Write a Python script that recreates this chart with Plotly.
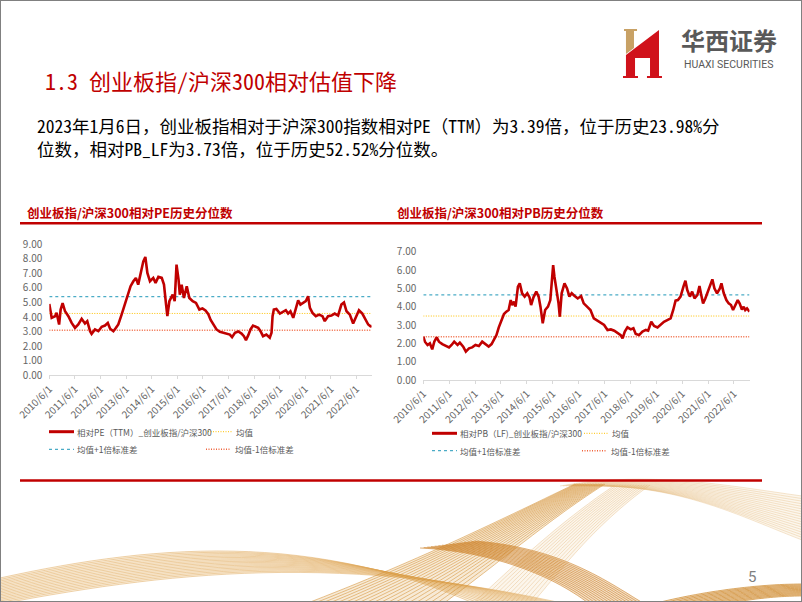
import plotly.graph_objects as go

W, H = 802, 602

# ---------------- data ----------------
pe_dates = ["2010-06-01", "2010-07-05", "2010-08-22", "2010-09-13", "2010-10-19", "2010-11-10", "2010-12-08",
            "2011-01-12", "2011-02-28", "2011-04-16", "2011-06-03", "2011-07-20", "2011-09-06", "2011-10-23",
            "2011-11-25", "2012-01-04", "2012-01-26", "2012-03-14", "2012-05-01", "2012-06-18", "2012-08-04",
            "2012-09-13", "2012-10-16", "2012-12-02", "2013-01-08", "2013-02-10", "2013-03-29", "2013-05-16",
            "2013-07-02", "2013-08-04", "2013-09-13", "2013-10-19", "2013-11-21", "2013-12-24", "2014-02-02",
            "2014-03-03", "2014-04-01", "2014-05-08", "2014-06-24", "2014-07-27", "2014-09-05", "2014-10-23",
            "2014-11-24", "2014-12-24", "2015-01-11", "2015-02-09", "2015-03-28", "2015-04-26", "2015-05-22",
            "2015-06-20", "2015-07-08", "2015-08-03", "2015-09-05", "2015-10-15", "2015-11-21", "2016-01-08",
            "2016-02-24", "2016-04-12", "2016-05-26", "2016-07-08", "2016-08-18", "2016-09-20", "2016-10-27",
            "2016-12-13", "2017-01-30", "2017-03-18", "2017-05-04", "2017-06-21", "2017-07-23", "2017-09-02",
            "2017-10-19", "2017-12-05", "2018-01-08", "2018-02-06", "2018-03-10", "2018-04-12", "2018-05-18",
            "2018-06-28", "2018-07-31", "2018-09-02", "2018-10-08", "2018-11-24", "2019-01-12", "2019-02-06",
            "2019-02-21", "2019-03-11", "2019-04-16", "2019-06-06", "2019-07-24", "2019-08-29", "2019-10-01",
            "2019-11-03", "2019-12-13", "2020-01-19", "2020-02-21", "2020-03-25", "2020-05-04", "2020-06-09",
            "2020-07-12", "2020-08-07", "2020-09-13", "2020-10-30", "2020-12-16", "2021-02-02", "2021-03-07",
            "2021-04-23", "2021-06-10", "2021-07-27", "2021-09-13", "2021-10-30", "2021-12-06", "2022-01-12",
            "2022-02-28", "2022-04-16", "2022-05-22", "2022-07-08", "2022-08-25", "2022-10-12", "2022-11-17",
            "2022-12-20", "2023-01-06"]
pe_values = [4.90, 3.95, 4.06, 4.30, 3.49, 4.52, 4.95,
             4.40, 4.06, 3.60, 3.26, 3.49, 3.88, 3.56,
             3.72, 3.03, 2.85, 3.15, 3.03, 3.33, 3.42,
             3.60, 3.20, 3.03, 3.26, 3.49, 4.17, 4.86,
             5.66, 6.12, 6.46, 6.69, 6.23, 7.03, 7.83,
             8.13, 7.03, 6.46, 6.69, 6.35, 6.76, 6.69,
             6.23, 4.86, 4.06, 5.09, 5.54, 5.09, 7.60,
             6.58, 5.54, 6.23, 5.31, 6.12, 5.31, 5.09,
             4.97, 4.52, 4.60, 4.45, 4.20, 3.80, 3.49,
             3.15, 2.99, 2.92, 2.87, 2.80, 2.62, 2.92,
             3.01, 2.87, 2.69, 2.42, 2.74, 3.15, 3.42,
             3.33, 3.26, 3.03, 2.69, 2.80, 2.58, 2.92,
             4.06, 4.52, 4.56, 4.24, 4.40, 4.47, 4.24,
             4.40, 3.95, 4.63, 5.15, 4.86, 4.97, 5.09,
             5.43, 4.63, 4.29, 4.06, 4.17, 4.06, 3.72,
             4.06, 4.10, 4.24, 4.10, 4.86, 5.00, 4.40,
             4.17, 3.56, 3.95, 4.47, 4.24, 3.83, 3.49,
             3.37, 3.39]

pb_dates = ["2010-06-01", "2010-06-24", "2010-07-31", "2010-09-02", "2010-10-05", "2010-11-03", "2010-12-06",
            "2011-01-08", "2011-02-24", "2011-04-12", "2011-05-30", "2011-07-05", "2011-08-11", "2011-09-27",
            "2011-10-30", "2011-12-16", "2012-01-22", "2012-03-07", "2012-04-20", "2012-06-06", "2012-07-24",
            "2012-09-09", "2012-10-27", "2012-12-09", "2013-01-19", "2013-02-24", "2013-03-29", "2013-05-01",
            "2013-06-07", "2013-07-13", "2013-08-15", "2013-09-17", "2013-10-16", "2013-11-07", "2013-12-03",
            "2013-12-24", "2014-01-26", "2014-02-21", "2014-03-26", "2014-05-01", "2014-06-07", "2014-07-09",
            "2014-07-31", "2014-09-02", "2014-10-12", "2014-11-14", "2014-12-10", "2015-01-11", "2015-02-14",
            "2015-03-26", "2015-04-28", "2015-05-20", "2015-06-07", "2015-06-25", "2015-07-24", "2015-08-22",
            "2015-09-09", "2015-10-05", "2015-11-14", "2015-12-20", "2016-01-22", "2016-02-24", "2016-04-01",
            "2016-05-19", "2016-07-05", "2016-08-11", "2016-09-27", "2016-11-14", "2017-01-01", "2017-02-14",
            "2017-04-01", "2017-05-26", "2017-07-13", "2017-08-29", "2017-10-16", "2017-12-02", "2018-01-15",
            "2018-02-10", "2018-03-14", "2018-04-20", "2018-06-06", "2018-07-13", "2018-08-15", "2018-10-01",
            "2018-11-18", "2019-01-04", "2019-02-06", "2019-03-22", "2019-05-01", "2019-06-18", "2019-07-31",
            "2019-09-17", "2019-11-03", "2019-12-20", "2020-01-26", "2020-02-28", "2020-04-01", "2020-05-08",
            "2020-06-18", "2020-07-16", "2020-08-11", "2020-09-17", "2020-10-19", "2020-11-21", "2021-01-01",
            "2021-01-30", "2021-02-24", "2021-03-22", "2021-04-23", "2021-05-26", "2021-07-05", "2021-07-31",
            "2021-08-29", "2021-10-05", "2021-11-14", "2021-12-06", "2022-01-08", "2022-02-14", "2022-03-18",
            "2022-04-20", "2022-05-19", "2022-06-21", "2022-07-24", "2022-08-19", "2022-09-21", "2022-10-16",
            "2022-11-07", "2022-12-02", "2023-01-06"]
pb_values = [2.36, 2.09, 1.91, 2.00, 1.67, 2.09, 2.33,
             2.09, 1.96, 1.85, 1.78, 1.91, 2.09, 1.91,
             2.04, 1.82, 1.55, 1.73, 1.78, 1.91, 1.85,
             2.09, 1.96, 1.82, 1.96, 2.18, 2.45, 2.87,
             3.27, 3.60, 3.73, 3.82, 4.36, 4.09, 4.27,
             4.00, 5.09, 5.27, 4.73, 4.55, 4.73, 4.51,
             4.09, 4.51, 4.82, 4.55, 4.00, 3.09, 3.82,
             4.00, 4.36, 5.46, 6.27, 5.64, 4.91, 4.18,
             3.45, 4.73, 5.27, 5.00, 4.55, 4.73, 4.60,
             4.45, 4.58, 4.18, 4.00, 3.82, 3.36, 3.24,
             3.13, 3.00, 2.73, 2.76, 2.69, 2.58, 2.45,
             2.27, 2.64, 2.87, 2.76, 2.82, 2.51, 2.45,
             2.64, 2.73, 2.69, 3.18, 2.95, 2.87, 3.00,
             3.18, 3.27, 3.36, 3.82, 4.33, 4.36, 4.55,
             5.09, 5.42, 4.91, 4.55, 4.82, 4.45, 4.64,
             5.13, 4.64, 4.18, 4.45, 4.82, 5.27, 5.49,
             5.00, 4.73, 5.00, 5.27, 4.73, 4.36, 4.18,
             4.09, 3.82, 4.09, 4.36, 4.18, 3.85, 4.00,
             3.82, 3.91, 3.73]

pe_mean, pe_plus_sd, pe_minus_sd = 4.25, 5.40, 3.10
pb_mean, pb_plus_sd, pb_minus_sd = 3.49, 4.64, 2.36

date_start, date_end = "2010-06-01", "2023-01-06"
tick_dates = ["%d-06-01" % y for y in range(2010, 2023)]
tick_labels = ["%d/6/1" % y for y in range(2010, 2023)]
pe_yticks = [0, 1, 2, 3, 4, 5, 6, 7, 8, 9]
pb_yticks = [0, 1, 2, 3, 4, 5, 6, 7]

page_title = "1.3 创业板指/沪深300相对估值下降"
body_lines = ["2023年1月6日，创业板指相对于沪深300指数相对PE（TTM）为3.39倍，位于历史23.98%分",
              "位数，相对PB_LF为3.73倍，位于历史52.52%分位数。"]
pe_title = "创业板指/沪深300相对PE历史分位数"
pb_title = "创业板指/沪深300相对PB历史分位数"
pe_series_name = "相对PE（TTM）_创业板指/沪深300"
pb_series_name = "相对PB（LF)_创业板指/沪深300"
mean_name = "均值"
plus_name = "均值+1倍标准差"
minus_name = "均值-1倍标准差"

# ---------------- styles ----------------
RED = "#C00000"
CYAN = "#4BACC6"
YELLOW = "#FFC000"
ORANGE = "#F0643C"
GRAY = "#7F7F7F"
CJK = "Noto Sans CJK SC"
NARROW = "Liberation Sans Narrow, Noto Sans CJK SC"
MONO = "Noto Sans Mono CJK SC, Noto Sans CJK SC"


def X(px):
    return px / W


def Y(py):
    return 1 - py / H


fig = go.Figure()


def add_panel(dates, values, mean, up, dn, xa, ya):
    for val, color, dash, width in [(up, CYAN, "3px,3px", 1.2), (mean, YELLOW, "1px,1.5px", 1.0),
                                    (dn, ORANGE, "1px,1.5px", 1.4)]:
        fig.add_trace(go.Scatter(x=[date_start, date_end], y=[val, val], mode="lines",
                                 line=dict(color=color, width=width, dash=dash),
                                 xaxis=xa, yaxis=ya, showlegend=False, hoverinfo="skip"))
    fig.add_trace(go.Scatter(x=dates, y=values, mode="lines",
                             line=dict(color=RED, width=2.6), xaxis=xa, yaxis=ya, showlegend=False))


add_panel(pe_dates, pe_values, pe_mean, pe_plus_sd, pe_minus_sd, "x", "y")
add_panel(pb_dates, pb_values, pb_mean, pb_plus_sd, pb_minus_sd, "x2", "y2")

tickfont = dict(family=NARROW, size=10, color="#666666")


def xaxis_cfg(x0, x1, anchor):
    return dict(domain=[X(x0), X(x1)], type="date", range=[date_start, date_end],
                tickmode="array", tickvals=tick_dates, ticktext=tick_labels, tickangle=-45,
                showline=True, linecolor="#D9D9D9", linewidth=1, ticks="outside", ticklen=3,
                tickcolor="#D9D9D9", showgrid=False, zeroline=False, tickfont=tickfont,
                anchor=anchor, fixedrange=True, automargin=False)


def yaxis_cfg(y0, y1, rmax, ticks, anchor):
    return dict(domain=[Y(y0), Y(y1)], range=[0, rmax], tickmode="array", tickvals=ticks,
                ticktext=["%.2f" % t for t in ticks], showgrid=False, zeroline=False,
                showline=False, ticks="", tickfont=tickfont, ticklabelstandoff=6,
                anchor=anchor, fixedrange=True, automargin=False)


shapes = []
annotations = []


# decorative waves at the bottom of the slide (pure decoration, polylines in paper space)
def bezier(p, steps=30):
    out = []
    for k in range(steps + 1):
        u = k / steps
        c = [(1 - u) ** 3, 3 * (1 - u) ** 2 * u, 3 * (1 - u) * u ** 2, u ** 3]
        out.append((sum(c[j] * p[j][0] for j in range(4)), sum(c[j] * p[j][1] for j in range(4))))
    return out


def ribbon(first, last, n, color, fill, width=0.8):
    a_pts = bezier(first)
    b_pts = bezier(last)
    outline = a_pts + b_pts[::-1]
    shapes.append(dict(type="path", xref="paper", yref="paper",
                       path="M " + " L ".join("%.4f,%.4f" % (X(x), Y(y)) for x, y in outline) + " Z",
                       fillcolor=fill, line=dict(width=0), layer="below"))
    for i in range(n):
        t = i / (n - 1)
        p = [(a[0] + (b[0] - a[0]) * t, a[1] + (b[1] - a[1]) * t) for a, b in zip(first, last)]
        pts = ["%.4f,%.4f" % (X(x), Y(y)) for x, y in bezier(p)]
        shapes.append(dict(type="path", xref="paper", yref="paper", path="M " + " L ".join(pts),
                           fillcolor="rgba(0,0,0,0)", line=dict(color=color, width=width),
                           layer="below"))


ribbon([(0, 578), (150, 545), (310, 530), (480, 606)], [(0, 604), (170, 572), (340, 552), (575, 606)],
       18, "rgba(222,165,85,0.6)", "rgba(235,190,120,0.22)")
ribbon([(610, 486), (690, 490), (745, 518), (802, 540)], [(560, 486), (650, 470), (730, 486), (802, 496)],
       18, "rgba(225,175,110,0.4)", "rgba(240,205,150,0.18)")
ribbon([(470, 606), (520, 560), (560, 522), (615, 485)], [(530, 606), (565, 565), (595, 525), (650, 485)],
       14, "rgba(225,175,110,0.45)", "rgba(240,205,150,0.18)")
ribbon([(300, 606), (420, 560), (500, 520), (575, 484)], [(440, 606), (495, 566), (548, 520), (605, 484)],
       20, "rgba(212,145,55,0.7)", "rgba(225,170,90,0.25)")
ribbon([(420, 548), (500, 552), (560, 580), (592, 606)], [(475, 541), (565, 548), (612, 585), (648, 606)],
       16, "rgba(205,130,40,0.75)", "rgba(215,150,70,0.3)")
ribbon([(645, 606), (700, 591), (760, 584), (802, 584)], [(715, 606), (748, 599), (778, 596), (802, 596)],
       12, "rgba(205,135,40,0.85)", "rgba(215,150,70,0.35)")


def hline(x0, x1, y, color, width, dash="solid"):
    shapes.append(dict(type="line", xref="paper", yref="paper", x0=X(x0), x1=X(x1), y0=Y(y), y1=Y(y),
                       line=dict(color=color, width=width, dash=dash), layer="above"))


def text(x, y, s, size, color, family=CJK, xanchor="left", weight="normal", yanchor="middle"):
    annotations.append(dict(xref="paper", yref="paper", x=X(x), y=Y(y), text=s, showarrow=False,
                            xanchor=xanchor, yanchor=yanchor, align="left", borderpad=0,
                            font=dict(size=size, color=color, family=family, weight=weight)))


# slide border
shapes.append(dict(type="rect", xref="paper", yref="paper", x0=0, y0=0, x1=1, y1=1,
                   line=dict(color="#808080", width=2), layer="above"))


# logo
def poly(pts, color):
    path = "M " + " L ".join("%.4f,%.4f" % (X(a), Y(b)) for a, b in pts) + " Z"
    shapes.append(dict(type="path", xref="paper", yref="paper", path=path,
                       fillcolor=color, line=dict(width=0), layer="above"))


poly([(624, 29), (637, 29), (637, 31), (634, 31), (634, 48), (626, 54), (626, 31), (624, 31)], "#C8A165")
poly([(626, 55), (659, 30), (659, 76), (662, 76), (662, 78), (647, 78), (647, 76), (650, 76), (650, 58),
      (635, 58), (635, 76), (638, 76), (638, 78), (623, 78), (623, 76), (626, 76)], "#D0121B")
text(729, 39, "华西证券", 24, "#595959", family=CJK, xanchor="center", weight="bold")
text(728, 64, "HUAXI SECURITIES", 10.5, "#595959", family="Roboto, Liberation Sans", xanchor="center")

# page title and body
text(44, 80, page_title, 22, RED, family=MONO)
text(36, 111.5, "<br>".join(body_lines), 17.5, "#000000", family=MONO, yanchor="top")

# chart titles and rules
text(26, 213, pe_title, 12.5, RED, family=CJK, weight="bold")
text(396, 213, pb_title, 12.5, RED, family=CJK, weight="bold")
hline(20, 762, 223.3, RED, 2.5)
hline(20, 762, 480.5, RED, 2.5)

# legends
lfont = 8.5
lc = "#595959"
for (lx, rx, r1, r2, name) in [(49, 206, 431.7, 449.3, pe_series_name), (432, 582, 433.3, 450.7, pb_series_name)]:
    hline(lx, lx + 25, r1, RED, 3)
    text(lx + 27, r1, name, lfont, lc, family=NARROW)
    hline(rx + 2, rx + 26, r1, YELLOW, 1, dash="1px,1.5px")
    text(rx + 29, r1, mean_name, lfont, lc, family=NARROW)
    hline(lx, lx + 25, r2, CYAN, 1.2, dash="3px,3px")
    text(lx + 27, r2, plus_name, lfont, lc, family=NARROW)
    hline(rx, rx + 25, r2, ORANGE, 1.4, dash="1px,1.5px")
    text(rx + 28, r2, minus_name, lfont, lc, family=NARROW)

# page number
text(752, 577, "5", 15, GRAY, family="Liberation Sans Narrow, Roboto", xanchor="center")

fig.update_layout(
    width=W, height=H, margin=dict(l=0, r=0, t=0, b=0, pad=0, autoexpand=False),
    paper_bgcolor="white", plot_bgcolor="rgba(0,0,0,0)", showlegend=False,
    xaxis=xaxis_cfg(49.3, 371.7, "y"),
    yaxis=yaxis_cfg(375.3, 244.3, 9, pe_yticks, "x"),
    xaxis2=xaxis_cfg(423.3, 749.5, "y2"),
    yaxis2=yaxis_cfg(380, 251.7, 7, pb_yticks, "x2"),
    shapes=shapes, annotations=annotations,
)

fig.write_html("out.html", config={"displayModeBar": False},
               post_script="document.body.style.margin='0px';")
